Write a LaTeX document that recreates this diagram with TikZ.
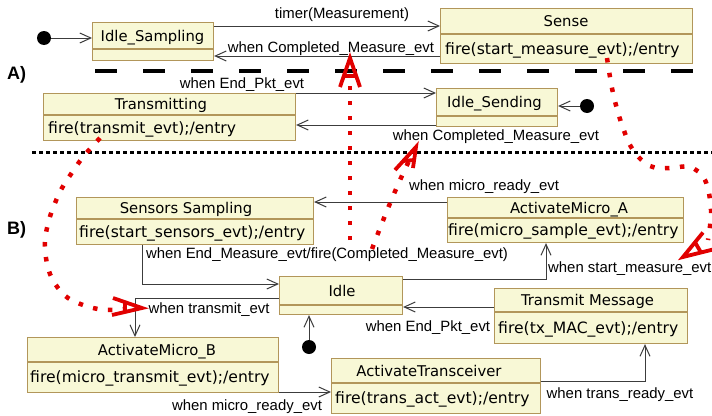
\documentclass[tikz,border=0pt]{standalone}
\usepackage{fontspec}
\setmainfont{DejaVu Sans}
\newfontfamily\lblfont{Liberation Sans}
\usetikzlibrary{arrows.meta,calc}
\definecolor{boxf}{RGB}{248,248,214}
\definecolor{boxc}{RGB}{178,150,90}
\definecolor{connc}{RGB}{60,60,60}
\definecolor{annred}{RGB}{225,0,0}
\newcommand\divline[2]{\draw[boxline] (#1.west |- 0,#2) -- (#1.east |- 0,#2);}
\begin{document}
\begin{tikzpicture}[x=1pt,y=-1pt,
  box/.style={draw=boxc, fill=boxf, line width=1.1pt, inner sep=0pt, anchor=north west},
  boxline/.style={draw=boxc, line width=1.1pt},
  hdr/.style={anchor=base, inner sep=0pt, font=\fontsize{14.8}{16}\selectfont},
  bod/.style={anchor=base west, inner sep=0pt, font=\fontsize{15.6}{17}\selectfont},
  lab/.style={anchor=base, inner sep=0pt, font=\lblfont\fontsize{14.9}{16}\selectfont},
  sect/.style={anchor=base west, inner sep=0pt, font=\lblfont\bfseries\fontsize{18}{20}\selectfont},
  conn/.style={draw=connc, line width=1pt, -{Straight Barb[length=11pt,width=10pt]}},
  initdot/.style={circle, fill=black, minimum size=14pt, inner sep=0pt},
  reddot/.style={draw=annred, line width=4.5pt, dash pattern=on 4.5pt off 10.5pt},
  redhead/.style={draw=annred, line width=3.8pt, line join=miter}]
\useasboundingbox[fill=white] (0,0) rectangle (712,415);

% ---- section A, top ----
\node[initdot] (ini1) at (44,38) {};
\node[box, minimum width=121pt, minimum height=38pt] (isamp) at (92,22) {};
\divline{isamp}{49}
\node[hdr] (isampH) at (152.5,41) {Idle\_Sampling};

\node[box, minimum width=252pt, minimum height=55pt] (sense) at (440,8) {};
\divline{sense}{34}
\node[hdr] (senseH) at (566,26.5) {Sense};
\node[bod] (senseB) at (445,54) {fire(start\_measure\_evt);/entry};

\draw[conn] (ini1) -- (isamp.west |- ini1);
\draw[conn] (isamp.east |- 0,26) -- (sense.west |- 0,26);
\draw[conn] (sense.west |- 0,56) -- (isamp.east |- 0,56);
\node[lab] (l1) at (342,19) {timer(Measurement)};
\node[lab] (l2) at (331,52) {when Completed\_Measure\_evt};

\node[sect] (secA) at (7,79) {A)};
\draw[line width=3.5pt, dash pattern=on 22pt off 26pt] (95,71) -- (700,71);

% ---- section A, bottom ----
\node[box, minimum width=252pt, minimum height=47pt] (trans) at (43,93) {};
\divline{trans}{115}
\node[hdr] (transH) at (161,109.5) {Transmitting};
\node[bod] (transB) at (48,133) {fire(transmit\_evt);/entry};

\node[box, minimum width=121pt, minimum height=38pt] (isend) at (436,88) {};
\divline{isend}{116}
\node[hdr] (isendH) at (494.5,107.5) {Idle\_Sending};
\node[initdot] (ini2) at (587,106) {};

\draw[conn] (ini2) -- (isend.east |- ini2);
\draw[conn] (trans.east |- 0,93) -- (isend.west |- 0,93);
\draw[conn] (isend.west |- 0,125) -- (trans.east |- 0,125);
\node[lab] (l3) at (242,88) {when End\_Pkt\_evt};
\node[lab] (l4) at (496,140.5) {when Completed\_Measure\_evt};

\draw[line width=2.2pt, dash pattern=on 4pt off 3pt] (32,152.5) -- (712,152.5);

% ---- section B ----
\node[sect] (secB) at (7,234) {B)};

\node[box, minimum width=237pt, minimum height=47pt] (ssamp) at (76,197) {};
\divline{ssamp}{219}
\node[hdr] (ssampH) at (186,213.5) {Sensors Sampling};
\node[bod] (ssampB) at (79,237) {fire(start\_sensors\_evt);/entry};

\node[box, minimum width=236pt, minimum height=45pt] (microA) at (447,197) {};
\divline{microA}{218}
\node[hdr] (microAH) at (569,213) {ActivateMicro\_A};
\node[bod] (microAB) at (448,235.7) {fire(micro\_sample\_evt);/entry};

\node[box, minimum width=123pt, minimum height=38pt] (idle) at (279,276) {};
\divline{idle}{305}
\node[hdr] (idleH) at (342,296) {Idle};
\node[initdot] (ini3) at (309,347) {};

\node[box, minimum width=193pt, minimum height=55pt] (tmsg) at (494,288) {};
\divline{tmsg}{312}
\node[hdr] (tmsgH) at (587.5,305.5) {Transmit Message};
\node[bod] (tmsgB) at (498,333) {fire(tx\_MAC\_evt);/entry};

\node[box, minimum width=251pt, minimum height=55pt] (microB) at (27,337) {};
\divline{microB}{362}
\node[hdr] (microBH) at (157,355) {ActivateMicro\_B};
\node[bod] (microBB) at (30,382.7) {fire(micro\_transmit\_evt);/entry};

\node[box, minimum width=209pt, minimum height=55pt] (xcvr) at (331,358) {};
\divline{xcvr}{383}
\node[hdr] (xcvrH) at (429,376) {ActivateTransceiver};
\node[bod] (xcvrB) at (335,403.7) {fire(trans\_act\_evt);/entry};

\draw[conn] (microA.west |- 0,202) -- (ssamp.east |- 0,202);
\draw[conn] (ssamp.south -| 142,0) |- (idle.west |- 0,284);
\draw[conn] (idle.east |- 0,279) -| (microA.south -| 546,0);
\draw[conn] (idle.west |- 0,298) -| (microB.north -| 135,0);
\draw[conn] (ini3) -- (idle.south -| ini3);
\draw[conn] (tmsg.west |- 0,307) -- (idle.east |- 0,307);
\draw[conn] (microB.east |- 0,392) -- (xcvr.west |- 0,392);
\draw[conn] (xcvr.east |- 0,381) -| (tmsg.south -| 645,0);

\node[lab] (l5) at (484,190) {when micro\_ready\_evt};
\node[lab] (l6) at (327,258.5) {when End\_Measure\_evt/fire(Completed\_Measure\_evt)};
\node[lab, anchor=base west] (l7) at (548,272.5) {when start\_measure\_evt};
\node[lab] (l8) at (209,313) {when transmit\_evt};
\node[lab] (l9) at (428,331) {when End\_Pkt\_evt};
\node[lab] (l10) at (247,410) {when micro\_ready\_evt};
\node[lab] (l11) at (620,398.5) {when trans\_ready\_evt};

% ---- red annotations ----
\draw[reddot] (350,240) -- (350,80);
\draw[redhead] (340,87) -- (350,58) -- (360,87);
\draw[redhead] (344,76) -- (356,76);

\draw[reddot] (372,249) .. controls (386,212) and (400,178) .. (413,153);
\draw[redhead] (395,170) -- (416,147) -- (413,168);
\draw[redhead] (403,161) -- (414,160);

\draw[reddot] plot[smooth, tension=0.6] coordinates {(607,58) (613,93) (622,125) (633,150) (650,166) (670,168) (690,167) (705,180) (711,210) (708,240)};
\draw[redhead] (703,232.5) -- (683,257) -- (713,249.5);
\draw[redhead] (695,242.3) -- (701,252.5);

\draw[reddot] plot[smooth, tension=0.6] coordinates {(100,138) (89,150) (80,161) (71,174) (62,188) (55,203) (49,220) (45,240) (46,258) (50,274) (58,288) (68,298) (83,305) (98,309) (112,310) (125,309)};
\draw[redhead] (113,298) -- (142,308) -- (112,315);
\draw[redhead] (125,302.5) -- (125,313);
\end{tikzpicture}
\end{document}
